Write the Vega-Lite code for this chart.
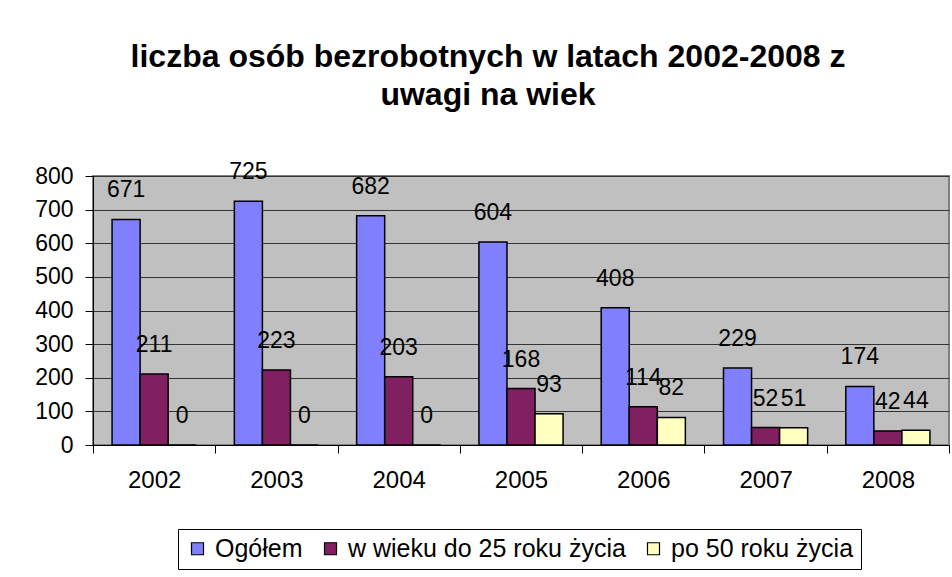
{
  "$schema": "https://vega.github.io/schema/vega-lite/v6.json",
  "autosize": {"type": "none"},
  "width": 856,
  "height": 269,
  "padding": {"left": 93, "top": 176, "right": 3, "bottom": 132},
  "background": "white",
  "title": {
    "text": ["liczba osób bezrobotnych w latach 2002-2008 z", "uwagi na wiek"],
    "font": "Liberation Sans",
    "fontSize": 32,
    "fontWeight": "bold",
    "color": "black",
    "anchor": "middle",
    "frame": "group",
    "dx": -33,
    "lineHeight": 38,
    "offset": 49
  },
  "config": {
    "view": {"fill": "#C0C0C0", "stroke": "#808080", "strokeWidth": 2},
    "font": "Liberation Sans",
    "axis": {
      "labelFont": "Liberation Sans",
      "labelFontSize": 23,
      "labelColor": "black",
      "domainColor": "black",
      "tickColor": "black",
      "tickSize": 8,
      "gridColor": "#333333",
      "gridOpacity": 1,
      "title": null
    }
  },
  "data": {
    "values": [
      {"rok": "2002", "grupa": "Ogółem", "liczba": 671},
      {"rok": "2002", "grupa": "w wieku do 25 roku życia", "liczba": 211},
      {"rok": "2002", "grupa": "po 50 roku życia", "liczba": 0},
      {"rok": "2003", "grupa": "Ogółem", "liczba": 725},
      {"rok": "2003", "grupa": "w wieku do 25 roku życia", "liczba": 223},
      {"rok": "2003", "grupa": "po 50 roku życia", "liczba": 0},
      {"rok": "2004", "grupa": "Ogółem", "liczba": 682},
      {"rok": "2004", "grupa": "w wieku do 25 roku życia", "liczba": 203},
      {"rok": "2004", "grupa": "po 50 roku życia", "liczba": 0},
      {"rok": "2005", "grupa": "Ogółem", "liczba": 604},
      {"rok": "2005", "grupa": "w wieku do 25 roku życia", "liczba": 168},
      {"rok": "2005", "grupa": "po 50 roku życia", "liczba": 93},
      {"rok": "2006", "grupa": "Ogółem", "liczba": 408},
      {"rok": "2006", "grupa": "w wieku do 25 roku życia", "liczba": 114},
      {"rok": "2006", "grupa": "po 50 roku życia", "liczba": 82},
      {"rok": "2007", "grupa": "Ogółem", "liczba": 229},
      {"rok": "2007", "grupa": "w wieku do 25 roku życia", "liczba": 52},
      {"rok": "2007", "grupa": "po 50 roku życia", "liczba": 51},
      {"rok": "2008", "grupa": "Ogółem", "liczba": 174},
      {"rok": "2008", "grupa": "w wieku do 25 roku życia", "liczba": 42},
      {"rok": "2008", "grupa": "po 50 roku życia", "liczba": 44}
    ]
  },
  "encoding": {
    "x": {
      "field": "rok",
      "type": "nominal",
      "scale": {"paddingInner": 0, "paddingOuter": 0},
      "axis": {"labelAngle": 0, "labelFontSize": 24, "tickBand": "extent", "labelPadding": 15, "grid": false}
    },
    "xOffset": {
      "field": "grupa",
      "type": "nominal",
      "sort": ["Ogółem", "w wieku do 25 roku życia", "po 50 roku życia"],
      "scale": {"paddingInner": 0, "paddingOuter": 0.68}
    },
    "y": {
      "field": "liczba",
      "type": "quantitative",
      "scale": {"domain": [0, 800], "nice": false},
      "axis": {"values": [0, 100, 200, 300, 400, 500, 600, 700, 800], "labelPadding": 12, "grid": true}
    }
  },
  "layer": [
    {
      "mark": {"type": "bar", "stroke": "black", "strokeWidth": 1.5},
      "encoding": {
        "color": {
          "field": "grupa",
          "type": "nominal",
          "sort": ["Ogółem", "w wieku do 25 roku życia", "po 50 roku życia"],
          "scale": {
            "domain": ["Ogółem", "w wieku do 25 roku życia", "po 50 roku życia"],
            "range": ["#8080FF", "#802060", "#FFFFC0"]
          },
          "legend": {
            "orient": "none",
            "legendX": 85,
            "legendY": 353,
            "direction": "horizontal",
            "title": null,
            "symbolType": "square",
            "symbolSize": 144,
            "symbolStrokeColor": "black",
            "symbolStrokeWidth": 1.2,
            "labelFont": "Liberation Sans",
            "labelFontSize": 25,
            "labelColor": "black",
            "labelLimit": 0,
            "labelOffset": 5,
            "columnPadding": 15,
            "strokeColor": "black",
            "fillColor": "white",
            "padding": 7
          }
        }
      }
    },
    {
      "mark": {"type": "text", "font": "Liberation Sans", "fontSize": 23, "color": "black", "baseline": "middle", "dy": -29},
      "encoding": {"text": {"field": "liczba", "type": "quantitative"}}
    }
  ]
}
